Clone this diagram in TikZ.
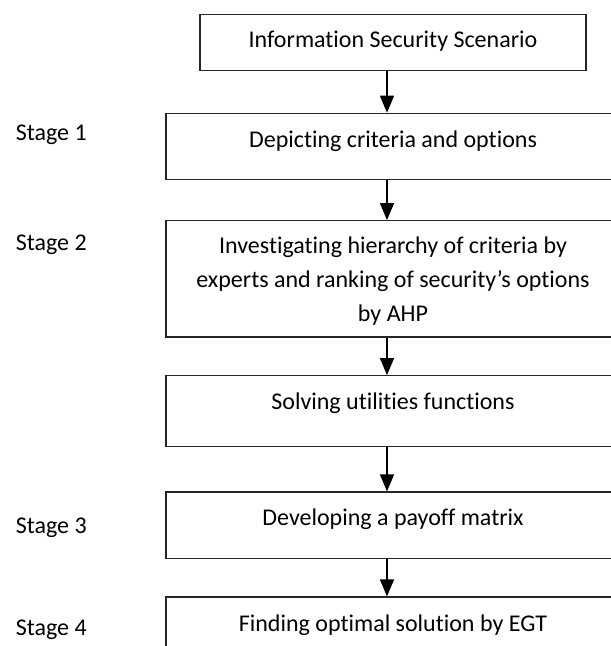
\documentclass[tikz,border=0pt]{standalone}
\usepackage{fontspec}
\setmainfont[Ligatures=NoCommon]{Carlito}
\usetikzlibrary{arrows.meta}
\begin{document}
\begin{tikzpicture}[x=1pt,y=-1pt,
  box/.style={draw=black!85,line width=1.2pt,fill=none,inner sep=0pt},
  txt/.style={inner sep=0pt,anchor=base,font=\fontsize{24pt}{34pt}\selectfont,align=center},
  stagelbl/.style={inner sep=0pt,anchor=base west,font=\fontsize{24pt}{34pt}\selectfont},
  arr/.style={line width=1.4pt,-{Triangle[length=17pt,width=14pt]}}]
\useasboundingbox (0,0) rectangle (611,646);
\clip (0,0) rectangle (611,646);
\fill[white] (0,0) rectangle (611,646);
% boxes
\node[box,minimum width=386pt,minimum height=56pt] (s0) at (393,42.3) {};
\node[box,minimum width=454pt,minimum height=66pt] (s1) at (393,146.3) {};
\node[box,minimum width=454pt,minimum height=116.3pt] (s2) at (393,278.85) {};
\node[box,minimum width=454pt,minimum height=71pt] (s3) at (393,411.2) {};
\node[box,minimum width=454pt,minimum height=66.3pt] (s4) at (393,525.15) {};
\node[box,minimum width=454pt,minimum height=66pt] (s5) at (393,630) {};
% texts
\node[txt] (t0) at (393,47) {Information Security Scenario};
\node[txt] (t1) at (393,147) {Depicting criteria and options};
\node[txt] (t2) at (393,321) {Investigating hierarchy of criteria by\\experts and ranking of security’s options\\by AHP};
\node[txt] (t3) at (393,409) {Solving utilities functions};
\node[txt] (t4) at (393,525) {Developing a payoff matrix};
\node[txt] (t5) at (393,631) {Finding optimal solution by EGT};
% stage labels
\node[stagelbl] (g1) at (15.6,140) {Stage 1};
\node[stagelbl] (g2) at (15.6,250) {Stage 2};
\node[stagelbl] (g3) at (15.6,533) {Stage 3};
\node[stagelbl] (g4) at (15.6,635) {Stage 4};
% arrows
\coordinate (ax) at (387,0);
\draw[arr] (s0.south -| ax) -- (s1.north -| ax);
\draw[arr] (s1.south -| ax) -- (s2.north -| ax);
\draw[arr] (s2.south -| ax) -- (s3.north -| ax);
\draw[arr] (s3.south -| ax) -- (s4.north -| ax);
\draw[arr] (s4.south -| ax) -- (s5.north -| ax);
\end{tikzpicture}
\end{document}
